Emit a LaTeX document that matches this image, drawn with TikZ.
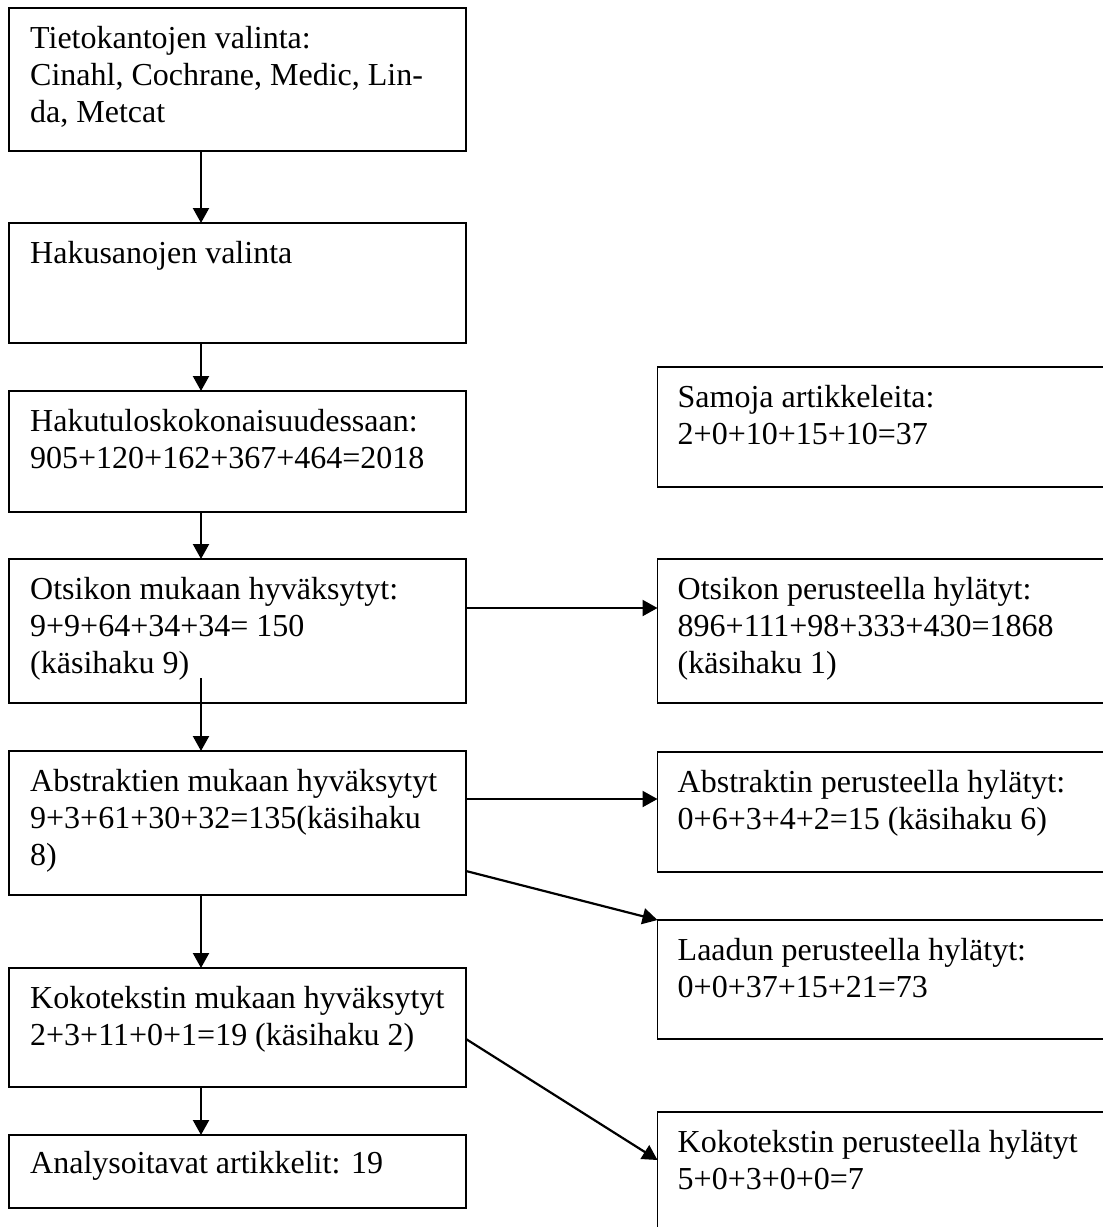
\documentclass[tikz,border=0pt]{standalone}
\usepackage{fontspec}
\setmainfont{Liberation Serif}
\usetikzlibrary{arrows.meta,calc}
\begin{document}
\begin{tikzpicture}[x=1pt,y=-1pt,
  box/.style={draw=black, line width=1.6pt, rectangle, inner sep=0pt, outer sep=0pt, anchor=north west},
  lbox/.style={box, minimum width=457pt},
  rbox/.style={box, minimum width=480pt},
  txt/.style={anchor=north west, inner sep=0pt, align=left, font=\fontsize{32}{37}\selectfont},
  flow/.style={line width=2.2pt, -{Triangle[length=15pt,width=16pt]}}]
\useasboundingbox (0,0) rectangle (1103,1227);
\clip (0,0) rectangle (1103,1227);

% main column of boxes
\node[lbox, minimum height=143pt] (b1) at (9,8) {};
\node[lbox, minimum height=120pt] (b2) at (9,223) {};
\node[lbox, minimum height=121pt] (b3) at (9,391) {};
\node[lbox, minimum height=144pt] (b4) at (9,559) {};
\node[lbox, minimum height=144pt] (b5) at (9,751) {};
\node[lbox, minimum height=119pt] (b6) at (9,968) {};
\node[lbox, minimum height=73pt]  (b7) at (9,1135) {};

% side column of boxes
\node[rbox, minimum height=120pt] (r1) at (657.5,367) {};
\node[rbox, minimum height=144pt] (r2) at (657.5,559) {};
\node[rbox, minimum height=120pt] (r3) at (657.5,752) {};
\node[rbox, minimum height=119pt] (r4) at (657.5,920) {};
\node[rbox, minimum height=160pt] (r5) at (657.5,1112) {};

% texts
\node[txt] (t1) at ($(b1.north west)+(21,14)$) {\strut Tietokantojen valinta:\\Cinahl, Cochrane, Medic, Lin-\\da, Metcat};
\node[txt] (t2) at ($(b2.north west)+(21,14)$) {\strut Hakusanojen valinta};
\node[txt] (t3) at ($(b3.north west)+(21,14)$) {\strut Hakutuloskokonaisuudessaan:\\905+120+162+367+464=2018};
\node[txt] (t4) at ($(b4.north west)+(21,14)$) {\strut Otsikon mukaan hyväksytyt:\\9+9+64+34+34= 150\\(käsihaku 9)};
\node[txt] (t5) at ($(b5.north west)+(21,14)$) {\strut Abstraktien mukaan hyväksytyt\\9+3+61+30+32=135(käsihaku\\8)};
\node[txt] (t6) at ($(b6.north west)+(21,14)$) {\strut Kokotekstin mukaan hyväksytyt\\2+3+11+0+1=19 (käsihaku 2)};
\node[txt] (t7) at ($(b7.north west)+(21,12)$) {\strut Analysoitavat artikkelit: 19};

\node[txt] (s1) at ($(r1.north west)+(20,14)$) {\strut Samoja artikkeleita:\\2+0+10+15+10=37};
\node[txt] (s2) at ($(r2.north west)+(20,14)$) {\strut Otsikon perusteella hylätyt:\\896+111+98+333+430=1868\\(käsihaku 1)};
\node[txt] (s3) at ($(r3.north west)+(20,14)$) {\strut Abstraktin perusteella hylätyt:\\0+6+3+4+2=15 (käsihaku 6)};
\node[txt] (s4) at ($(r4.north west)+(20,14)$) {\strut Laadun perusteella hylätyt:\\0+0+37+15+21=73};
\node[txt] (s5) at ($(r5.north west)+(20,14)$) {\strut Kokotekstin perusteella hylätyt\\5+0+3+0+0=7};

% vertical flow along the main column
\coordinate (ax) at (201,0);
\draw[flow] (b1.south -| ax) -- (b2.north -| ax);
\draw[flow] (b2.south -| ax) -- (b3.north -| ax);
\draw[flow] (b3.south -| ax) -- (b4.north -| ax);
\draw[flow] ($(b4.south -| ax)+(0,-25)$) -- (b5.north -| ax);
\draw[flow] (b5.south -| ax) -- (b6.north -| ax);
\draw[flow] (b6.south -| ax) -- (b7.north -| ax);

% branches to the side column
\coordinate (h4) at ($(b4.north east)+(0,49)$);
\draw[flow] (h4) -- (h4 -| r2.west);
\coordinate (h5) at ($(b5.north east)+(0,48)$);
\draw[flow] (h5) -- (h5 -| r3.west);
\coordinate (d5) at ($(b5.north east)+(0,120)$);
\draw[flow] (d5) -- (r4.north west);
\coordinate (d6) at ($(b6.north east)+(0,71)$);
\draw[flow] (d6) -- ($(r5.north west)+(0,48)$);
\end{tikzpicture}
\end{document}
